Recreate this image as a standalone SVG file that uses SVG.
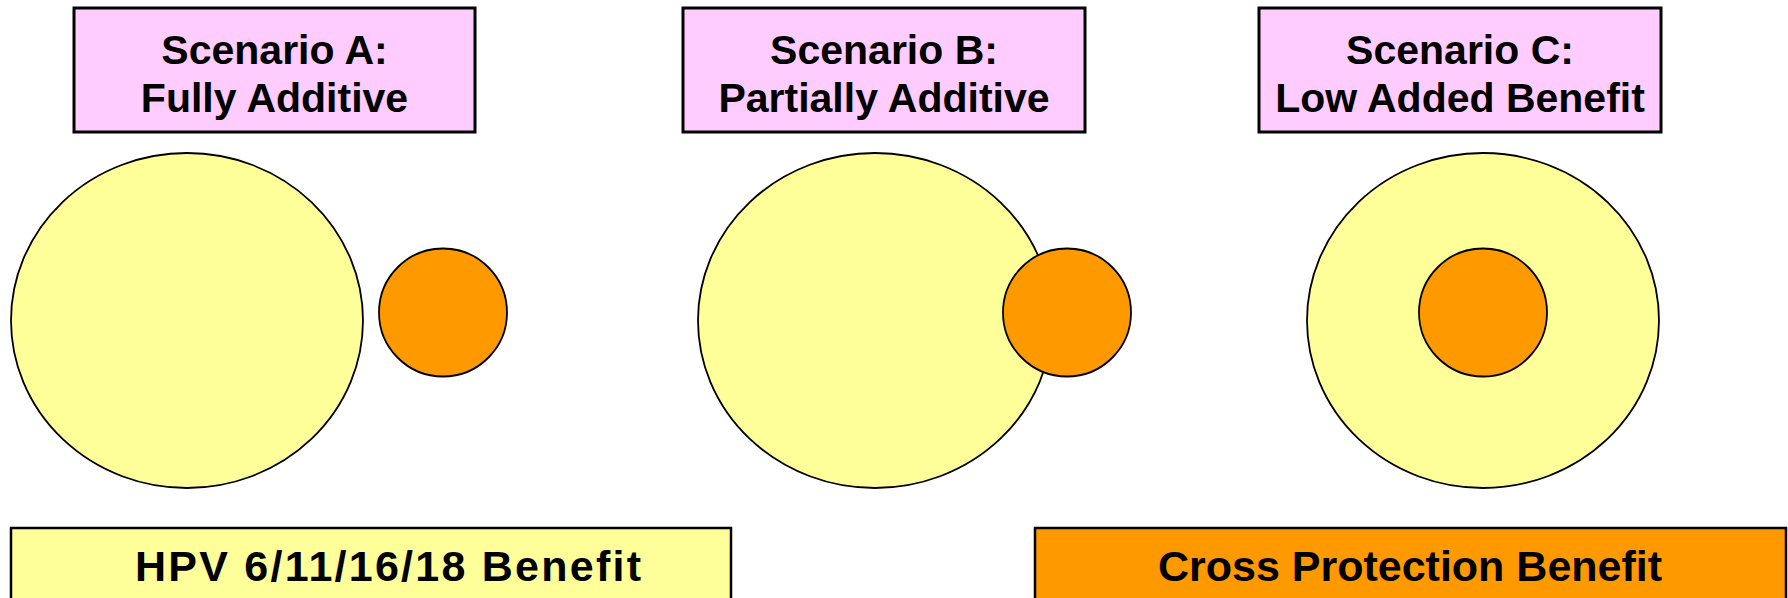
<svg xmlns="http://www.w3.org/2000/svg" width="1788" height="598" viewBox="0 0 1788 598">
<style>
.title{fill:#FFCCFF;stroke:#000;stroke-width:3}
.big{fill:#FFFF99;stroke:#000;stroke-width:1.8}
.small{fill:#FF9900;stroke:#000;stroke-width:1.8}
.legY{fill:#FFFF99;stroke:#000;stroke-width:2.5}
.legO{fill:#FF9900;stroke:#000;stroke-width:2.5}
text{font-family:"Liberation Sans",Arial,sans-serif;font-weight:bold;fill:#000;text-anchor:middle}
.t{font-size:41px}
.l{font-size:43px}
</style>
<rect width="1788" height="598" fill="#fff"/>
<g id="scenarioA-title">
<rect class="title" x="74" y="8" width="401" height="124"/>
<text class="t" x="274.5" y="64">Scenario A:</text>
<text class="t" x="274.5" y="112">Fully Additive</text>
</g>
<g id="scenarioB-title">
<rect class="title" x="683" y="8" width="402" height="124"/>
<text class="t" x="884" y="64">Scenario B:</text>
<text class="t" x="884" y="112">Partially Additive</text>
</g>
<g id="scenarioC-title">
<rect class="title" x="1259" y="8" width="402" height="124"/>
<text class="t" x="1460" y="64">Scenario C:</text>
<text class="t" x="1460" y="112">Low Added Benefit</text>
</g>
<g id="scenarioA-diagram">
<ellipse class="big" cx="187" cy="320.5" rx="176" ry="167.5"/>
<circle class="small" cx="443" cy="312.5" r="64"/>
</g>
<g id="scenarioB-diagram">
<ellipse class="big" cx="875" cy="320.5" rx="177" ry="167.5"/>
<circle class="small" cx="1067" cy="312.5" r="64"/>
</g>
<g id="scenarioC-diagram">
<ellipse class="big" cx="1483" cy="320.5" rx="176" ry="167.5"/>
<circle class="small" cx="1483" cy="312.5" r="64"/>
</g>
<g id="legend-hpv">
<rect class="legY" x="11" y="528" width="720" height="80"/>
<text class="l" x="388" y="581" textLength="506" lengthAdjust="spacing">HPV 6/11/16/18 Benefit</text>
</g>
<g id="legend-cross">
<rect class="legO" x="1035" y="528" width="751" height="80"/>
<text class="l" x="1410" y="581">Cross Protection Benefit</text>
</g>
</svg>
